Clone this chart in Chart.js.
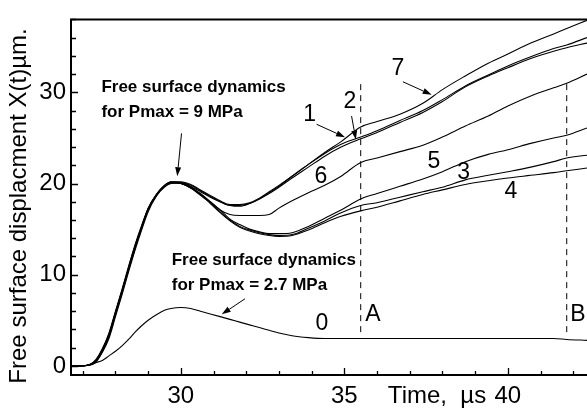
<!DOCTYPE html>
<html>
<head>
<meta charset="utf-8">
<script src="https://cdn.jsdelivr.net/npm/chart.js@4.4.1/dist/chart.umd.min.js"></script>
<style>
  html, body { margin: 0; padding: 0; background: #fff; }
  #chart { display: block; }
</style>
</head>
<body>
<canvas id="chart" width="587" height="409"></canvas>
<script>
"use strict";
// time, µs (shared by all curves)
const timeUs = [26.64, 27.1, 27.4, 27.6, 27.8, 28.0, 28.2, 28.4, 28.6, 28.8,
    29.0, 29.25, 29.5, 29.7, 30.0, 30.3, 30.6, 30.9, 31.2, 31.5,
    31.8, 32.1, 32.4, 32.7, 33.0, 33.4, 33.9, 34.4, 34.9, 35.5,
    36.0, 36.7, 37.4, 38.0, 38.7, 39.4, 40.0, 40.7, 41.4, 41.8, 42.42];

// free surface displacement X(t), µm
const curve0 = [0, 0.03, 0.35, 0.6, 1.1, 1.6, 2.2, 2.9, 3.7, 4.4,
    5.0, 5.6, 6.1, 6.3, 6.4, 6.3, 6.0, 5.7, 5.4, 5.1,
    4.8, 4.5, 4.2, 3.9, 3.6, 3.3, 3.1, 3.0, 3.0, 3.0,
    3.0, 3.0, 3.0, 3.0, 3.0, 3.0, 3.0, 3.0, 3.0, 2.9, 2.8];
const curve1 = [0, 0.05, 0.5, 1.6, 3.2, 5.6, 8.0, 10.5, 12.9, 15.1,
    17.1, 18.7, 19.7, 20.1, 20.1, 19.8, 19.2, 18.6, 18.0, 17.6,
    17.6, 17.8, 18.3, 18.9, 19.6, 20.6, 21.8, 23.0, 24.0, 24.9,
    25.6, 26.7, 27.8, 29.0, 30.6, 31.8, 32.7, 33.7, 34.5, 34.9, 35.4];
const curve2 = [0, 0.05, 0.6, 1.8, 3.5, 5.9, 8.3, 10.8, 13.2, 15.3,
    17.3, 18.8, 19.8, 20.2, 20.2, 19.9, 19.3, 18.7, 18.1, 17.7,
    17.7, 17.9, 18.4, 19.1, 19.8, 20.8, 22.1, 23.3, 24.3, 25.1,
    25.8, 26.9, 28.0, 29.2, 30.7, 31.9, 32.9, 33.9, 34.8, 35.2, 36.0];
const curve3 = [0, 0.05, 0.5, 1.6, 3.3, 5.7, 8.1, 10.6, 13.0, 15.1,
    17.1, 18.7, 19.7, 20.1, 20.0, 19.5, 18.7, 17.9, 16.9, 16.0,
    15.3, 14.9, 14.6, 14.4, 14.3, 14.4, 15.1, 15.9, 16.8, 17.6,
    17.9, 18.5, 19.1, 19.6, 20.4, 20.9, 21.3, 21.8, 22.4, 22.8, 23.1];
const curve4 = [0, 0.05, 0.6, 1.7, 3.4, 5.8, 8.2, 10.7, 13.1, 15.2,
    17.2, 18.8, 19.8, 20.2, 20.1, 19.6, 18.8, 17.8, 16.8, 15.9,
    15.2, 14.8, 14.5, 14.3, 14.2, 14.3, 14.9, 15.7, 16.4, 17.0,
    17.4, 18.1, 18.8, 19.3, 19.9, 20.3, 20.6, 20.9, 21.2, 21.4, 21.7];
const curve5 = [0, 0.05, 0.7, 1.9, 3.6, 6.0, 8.4, 10.9, 13.3, 15.4,
    17.3, 18.8, 19.8, 20.1, 20.0, 19.5, 18.8, 18.0, 17.1, 16.1,
    15.5, 15.0, 14.7, 14.5, 14.5, 14.6, 15.3, 16.2, 17.1, 18.3,
    18.9, 19.7, 20.5, 21.3, 22.4, 23.2, 23.7, 24.4, 25.0, 25.3, 26.1];
const curve6 = [0, 0.05, 0.5, 1.7, 3.3, 5.7, 8.1, 10.6, 13.0, 15.2,
    17.2, 18.7, 19.7, 20.1, 20.0, 19.6, 18.9, 18.0, 17.1, 16.6,
    16.5, 16.5, 16.5, 16.6, 17.3, 18.1, 19.0, 19.8, 20.8, 22.3,
    22.8, 23.5, 24.2, 25.1, 26.3, 27.4, 28.5, 29.6, 30.5, 31.0, 32.0];
const curve7 = [0, 0.05, 0.4, 1.5, 3.0, 5.4, 7.8, 10.3, 12.7, 14.9,
    16.9, 18.6, 19.6, 20.0, 20.1, 19.7, 19.1, 18.5, 18.0, 17.6,
    17.5, 17.8, 18.3, 19.0, 19.7, 20.8, 22.1, 23.4, 24.6, 26.2,
    26.8, 27.6, 28.8, 30.3, 31.8, 33.2, 34.2, 35.4, 36.4, 37.0, 37.9];

// vertical markers A and B (time, µs) and their extent (µm)
const markerNames = ["A", "B"];
const markerTimes = [35.5, 41.8];
const markerSpan = [3.4, 30.9];

const xLabelled = [30, 35, 40];
const yLabelled = [0, 10, 20, 30];

const FONT = "'Liberation Sans', Arial, Helvetica, sans-serif";

function toPoints(values) {
    return values.map(function (v, i) { return { x: timeUs[i], y: v }; });
}

const curves = [curve0, curve1, curve2, curve3, curve4, curve5, curve6, curve7];
let datasets = curves.map(function (c, i) {
    return {
        label: String(i),
        data: toPoints(c),
        borderColor: '#000',
        borderWidth: 1.1,
        pointRadius: 0,
        fill: false,
        cubicInterpolationMode: 'monotone'
    };
});
markerTimes.forEach(function (t, i) {
    datasets.push({
        label: markerNames[i],
        data: [{ x: t, y: markerSpan[1] }, { x: t, y: markerSpan[0] }],
        borderColor: '#000',
        borderWidth: 1,
        borderDash: [6, 5],
        pointRadius: 0,
        fill: false
    });
});

// annotation texts and arrows, in data coordinates
const notes = [
    { lines: ["Free surface dynamics", "for Pmax = 9 MPa"], x: 27.57, y: 30.09, dy: 25 },
    { lines: ["Free surface dynamics", "for Pmax = 2.7 MPa"], x: 29.72, y: 11.11, dy: 25.5 }
];
const arrows = [
    [30.02, 25.5, 29.89, 20.8],
    [31.96, 7.36, 31.25, 5.65],
    [36.79, 31.16, 37.67, 29.73],
    [34.15, 26.5, 35.02, 25.08],
    [35.22, 27.4, 35.35, 24.83]
];
const tags = [
    ["7", 36.64, 32.55], ["2", 35.17, 29.0], ["1", 33.94, 27.6], ["6", 34.28, 20.76],
    ["5", 37.74, 22.37], ["3", 38.65, 21.19], ["4", 40.09, 19.15], ["0", 34.31, 4.58],
    ["A", 35.87, 5.65], ["B", 42.14, 5.65]
];

const paperPlugin = {
    id: 'paper',
    afterDraw: function (chart) {
        const ctx = chart.ctx;
        const a = chart.chartArea;
        const xs = chart.scales.x;
        const ys = chart.scales.y;
        ctx.save();
        ctx.strokeStyle = '#000';
        ctx.fillStyle = '#000';

        // frame: left, top, bottom
        ctx.lineWidth = 2;
        ctx.beginPath();
        ctx.moveTo(a.right, a.top);
        ctx.lineTo(a.left, a.top);
        ctx.lineTo(a.left, a.bottom);
        ctx.lineTo(a.right, a.bottom);
        ctx.stroke();

        // inward ticks
        ctx.lineWidth = 1.3;
        ctx.beginPath();
        xs.ticks.forEach(function (t) {
            const v = Math.round(t.value);
            const px = Math.round(xs.getPixelForValue(v)) + 0.5;
            const len = xLabelled.indexOf(v) >= 0 ? 7 : 4;
            ctx.moveTo(px, a.bottom);
            ctx.lineTo(px, a.bottom - len);
        });
        ys.ticks.forEach(function (t) {
            const v = Math.round(t.value);
            const py = Math.round(ys.getPixelForValue(v)) + 0.5;
            const len = yLabelled.indexOf(v) >= 0 ? 7 : 5;
            ctx.moveTo(a.left, py);
            ctx.lineTo(a.left + len, py);
        });
        ctx.stroke();

        // axis titles
        ctx.font = '24px ' + FONT;
        ctx.textAlign = 'center';
        ctx.textBaseline = 'alphabetic';
        ctx.fillText('Time,  \u00b5s', 437, 403);
        ctx.save();
        ctx.translate(26, 206);
        ctx.rotate(-Math.PI / 2);
        ctx.fillText('Free surface displacment X(t)\u00b5m.', 0, 0);
        ctx.restore();

        // annotation texts
        ctx.font = 'bold 17px ' + FONT;
        ctx.textAlign = 'left';
        notes.forEach(function (n) {
            const px = xs.getPixelForValue(n.x);
            const py = ys.getPixelForValue(n.y);
            n.lines.forEach(function (s, k) { ctx.fillText(s, px, py + k * n.dy); });
        });

        // arrows
        ctx.lineWidth = 1;
        arrows.forEach(function (r) {
            const x0 = xs.getPixelForValue(r[0]), y0 = ys.getPixelForValue(r[1]);
            const x1 = xs.getPixelForValue(r[2]), y1 = ys.getPixelForValue(r[3]);
            const ang = Math.atan2(y1 - y0, x1 - x0);
            const hl = 9, hw = 3;
            const bx = x1 - hl * Math.cos(ang), by = y1 - hl * Math.sin(ang);
            ctx.beginPath();
            ctx.moveTo(x0, y0);
            ctx.lineTo(bx, by);
            ctx.stroke();
            ctx.beginPath();
            ctx.moveTo(x1, y1);
            ctx.lineTo(bx + hw * Math.sin(ang), by - hw * Math.cos(ang));
            ctx.lineTo(bx - hw * Math.sin(ang), by + hw * Math.cos(ang));
            ctx.closePath();
            ctx.fill();
        });

        // curve labels
        ctx.font = '23px ' + FONT;
        ctx.textAlign = 'center';
        ctx.textBaseline = 'middle';
        tags.forEach(function (t) {
            ctx.fillText(t[0], xs.getPixelForValue(t[1]), ys.getPixelForValue(t[2]));
        });
        ctx.restore();
    }
};

const chart = new Chart(document.getElementById('chart'), {
    type: 'line',
    data: { datasets: datasets },
    options: {
        responsive: false,
        animation: false,
        devicePixelRatio: 1,
        layout: { padding: { top: 11, right: 0, left: 0, bottom: 0 } },
        plugins: { legend: { display: false }, tooltip: { enabled: false } },
        scales: {
            x: {
                type: 'linear',
                min: 26.64,
                max: 42.42,
                grid: { display: false, drawTicks: false },
                border: { display: false },
                afterFit: function (s) { s.height = 34; },
                ticks: {
                    stepSize: 1,
                    includeBounds: false,
                    autoSkip: false,
                    maxRotation: 0,
                    padding: 7,
                    color: '#000',
                    font: { size: 24, family: FONT },
                    callback: function (v) {
                        const r = Math.round(v);
                        return xLabelled.indexOf(r) >= 0 ? String(r) : '';
                    }
                }
            },
            y: {
                min: -1.0,
                max: 38.0,
                grid: { display: false, drawTicks: false },
                border: { display: false },
                afterFit: function (s) { s.width = 71; },
                ticks: {
                    stepSize: 2,
                    includeBounds: false,
                    autoSkip: false,
                    padding: 5,
                    color: '#000',
                    font: { size: 24, family: FONT },
                    callback: function (v) {
                        const r = Math.round(v);
                        return yLabelled.indexOf(r) >= 0 ? String(r) : '';
                    }
                }
            }
        }
    },
    plugins: [paperPlugin]
});
</script>
</body>
</html>
